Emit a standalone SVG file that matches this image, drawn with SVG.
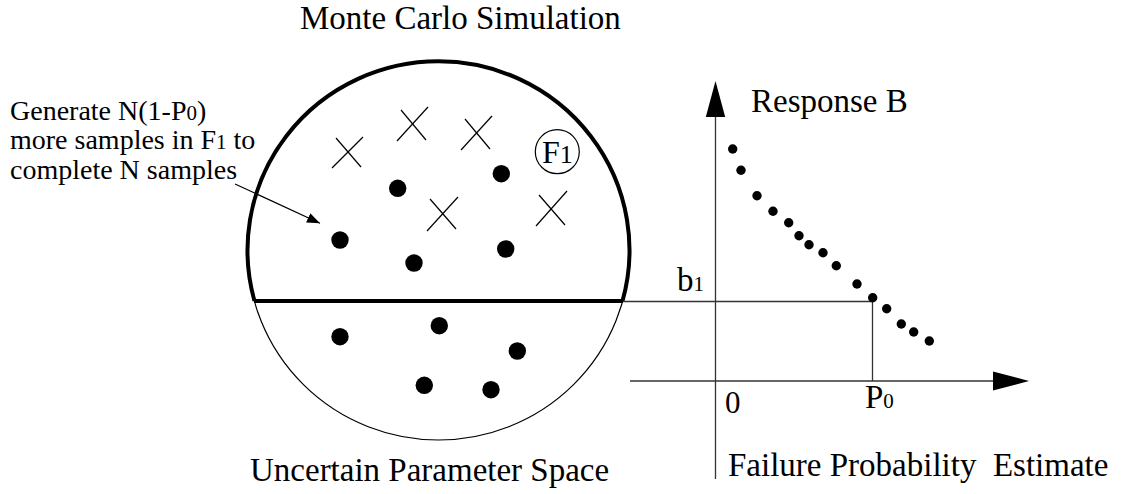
<svg xmlns="http://www.w3.org/2000/svg" width="1123" height="494" viewBox="0 0 1123 494">
<style>
text{font-family:"Liberation Serif","Times New Roman",serif;fill:#000}
.big{font-size:33px}
.note{font-size:28px}
.sub{font-size:21px}
.thin{stroke:#000;stroke-width:1.2;fill:none}
.axis{stroke:#333;stroke-width:1.3;fill:none}
.thick{stroke:#000;stroke-width:4;fill:none}
.cross{stroke:#000;stroke-width:1.2}
.dot{fill:#000}
</style>
<defs>
<marker id="ah" markerWidth="14" markerHeight="12" refX="13" refY="5" orient="auto" markerUnits="userSpaceOnUse">
<path d="M0,0 L13,5 L0,10 Z" fill="#000"/>
</marker>
</defs>
<rect width="1123" height="494" fill="#fff"/>

<g id="title"><text class="big" x="300" y="29">Monte Carlo Simulation</text></g>

<g id="parameter-space">
<ellipse cx="438.5" cy="251" rx="191" ry="189" class="thin"/>
<path class="thick" d="M254.5,301 A191,189 0 1 1 622.5,301"/>
<line class="thick" x1="254" y1="301" x2="623" y2="301" stroke-width="3.5"/>
</g>

<g id="failure-region-F1">
<g class="cross">
<line x1="332" y1="168" x2="363" y2="137"/><line x1="336" y1="138" x2="361" y2="167"/>
<line x1="397" y1="141" x2="428" y2="107"/><line x1="401" y1="110" x2="426" y2="140"/>
<line x1="461" y1="150" x2="492" y2="116"/><line x1="465" y1="119" x2="490" y2="149"/>
<line x1="427" y1="231" x2="458" y2="197"/><line x1="430" y1="199" x2="456" y2="229"/>
<line x1="536" y1="226" x2="567" y2="191"/><line x1="539" y1="195" x2="565" y2="225"/>
</g>
<circle class="dot" cx="397.7" cy="188.3" r="8.7"/>
<circle class="dot" cx="501.3" cy="173.7" r="8.7"/>
<circle class="dot" cx="340" cy="240" r="8.7"/>
<circle class="dot" cx="414" cy="263" r="8.7"/>
<circle class="dot" cx="505.7" cy="249" r="8.7"/>
<circle cx="557.3" cy="151.7" r="22" class="thin"/>
<text x="542" y="162.5" font-size="32">F<tspan font-size="26">1</tspan></text>
</g>

<g id="safe-region">
<circle class="dot" cx="340" cy="336.7" r="8.7"/>
<circle class="dot" cx="439.3" cy="325.7" r="8.7"/>
<circle class="dot" cx="517.3" cy="351" r="8.7"/>
<circle class="dot" cx="424.3" cy="385.3" r="8.7"/>
<circle class="dot" cx="491" cy="389.7" r="8.7"/>
</g>

<g id="annotation">
<text class="note" x="10" y="120">Generate N(1-P<tspan class="sub">0</tspan>)</text>
<text class="note" x="10" y="149">more samples in F<tspan class="sub">1</tspan> to</text>
<text class="note" x="10" y="179">complete N samples</text>
</g>

<g id="connectors">
<line x1="235" y1="184" x2="320" y2="223.3" stroke="#000" stroke-width="1.2" marker-end="url(#ah)"/>
<line class="axis" x1="623" y1="301.5" x2="872.5" y2="301.5"/>
<line class="axis" x1="872.5" y1="301.5" x2="872.5" y2="381"/>
<line class="axis" x1="630" y1="381" x2="995" y2="381"/>
<path d="M1029,381 L993,371.5 L993,390.5 Z" fill="#000"/>
<line class="axis" x1="715.5" y1="115" x2="715.5" y2="479"/>
<path d="M715.5,81 L705.8,117 L725.2,117 Z" fill="#000"/>
</g>

<g id="response-curve">
<circle class="dot" cx="732.7" cy="149" r="4.7"/>
<circle class="dot" cx="741" cy="170.3" r="4.7"/>
<circle class="dot" cx="757" cy="195.7" r="4.7"/>
<circle class="dot" cx="773" cy="211.3" r="4.7"/>
<circle class="dot" cx="788.7" cy="222.7" r="4.7"/>
<circle class="dot" cx="799" cy="235.7" r="4.7"/>
<circle class="dot" cx="809" cy="244.7" r="4.7"/>
<circle class="dot" cx="823" cy="252.7" r="4.7"/>
<circle class="dot" cx="836.3" cy="265.7" r="4.7"/>
<circle class="dot" cx="857" cy="284" r="4.7"/>
<circle class="dot" cx="872.7" cy="297.7" r="4.7"/>
<circle class="dot" cx="886.7" cy="308.7" r="4.7"/>
<circle class="dot" cx="901.3" cy="324" r="4.7"/>
<circle class="dot" cx="913.7" cy="332" r="4.7"/>
<circle class="dot" cx="929.3" cy="341" r="4.7"/>
</g>

<g id="labels">
<text class="big" x="751" y="112">Response B</text>
<text class="big" x="677" y="291">b<tspan class="sub">1</tspan></text>
<text x="725" y="413" font-size="31">0</text>
<text class="big" x="865" y="408">P<tspan class="sub">0</tspan></text>
<text class="big" x="728" y="476" style="white-space:pre">Failure Probability  Estimate</text>
<text class="big" x="250" y="481">Uncertain Parameter Space</text>
</g>
</svg>
